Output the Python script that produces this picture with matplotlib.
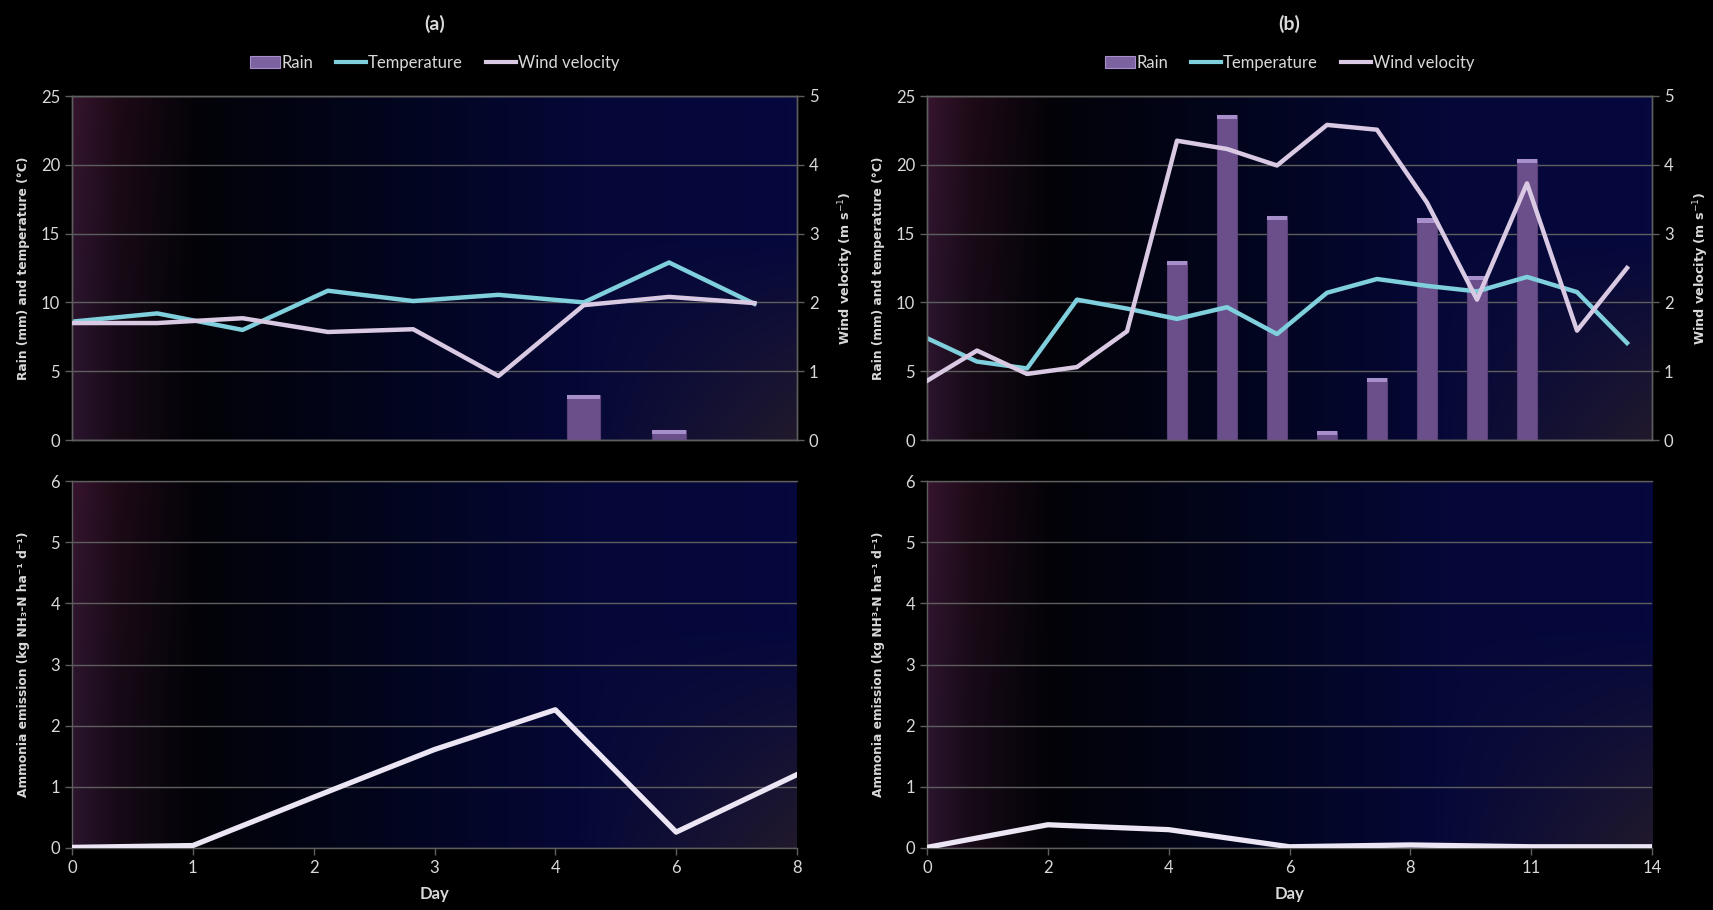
import numpy as np
import matplotlib
matplotlib.use('Agg')
import matplotlib.pyplot as plt
from matplotlib.patches import Patch
from matplotlib.lines import Line2D

# daily weather during the two campaigns
rain_a = [0, 0, 0, 0, 0, 0, 3.3, 0.7, 0]
temp_a = [8.6, 9.2, 8.0, 10.85, 10.1, 10.55, 10.0, 12.9, 9.9]
wind_a = [1.70, 1.70, 1.77, 1.57, 1.61, 0.93, 1.96, 2.08, 1.99]

rain_b = [0, 0, 0, 0, 0, 13.0, 23.6, 16.3, 0.65, 4.5, 16.1, 11.9, 20.4, 0, 0]
temp_b = [7.4, 5.7, 5.2, 10.2, 9.55, 8.8, 9.65, 7.7, 10.7, 11.7, 11.2, 10.8, 11.85, 10.75, 7.05]
wind_b = [0.86, 1.30, 0.96, 1.06, 1.58, 4.35, 4.23, 3.99, 4.58, 4.51, 3.45, 2.04, 3.73, 1.59, 2.50]

# ammonia emission per sampling day
days_a = ['0', '1', '2', '3', '4', '6', '8']
nh3_a = [0.01, 0.04, 0.83, 1.61, 2.26, 0.26, 1.20]
days_b = ['0', '2', '4', '6', '8', '11', '14']
nh3_b = [0.01, 0.38, 0.30, 0.02, 0.05, 0.02, 0.02]

NARROW = ['Lato', 'DejaVu Sans']
TXT = '#d9d9d9'
GRID = '#5e5e5e'
C_TEMP = '#7fcfdc'
C_WIND = '#d9c9e3'
C_RAIN = '#6a4f8a'
C_NH3 = '#ece6f4'


def backdrop(ax):
    # dark purple -> black -> navy wash, lighter haze in the lower right
    xs = np.linspace(0, 1, 400)[None, :]
    ys = np.linspace(0, 1, 200)[:, None]
    stops = [0, 0.06, 0.17, 0.45, 0.72, 1.0]
    r = np.interp(xs, stops, [0.17, 0.09, 0.01, 0.01, 0.02, 0.02])
    g = np.interp(xs, stops, [0.08, 0.04, 0.01, 0.02, 0.03, 0.03])
    b = np.interp(xs, stops, [0.18, 0.09, 0.03, 0.12, 0.22, 0.24])
    img = np.stack(np.broadcast_arrays(r, g, b), axis=-1).astype(float)
    img = img * np.ones((200, 400, 1))
    top = np.clip((0.6 - ys) / 0.6, 0, 1)
    img[..., 0] += 0.04 * top * np.clip((0.2 - xs) / 0.2, 0, 1)
    haze = np.clip((xs - 0.7) / 0.3, 0, 1) * np.clip((ys - 0.4) / 0.6, 0, 1)
    haze = haze[..., None] * np.ones((1, 1, 3))
    img = img * (1 - haze) + haze * np.array([0.13, 0.10, 0.17])
    ax.imshow(img, extent=(0, 1, 0, 1), transform=ax.transAxes, aspect='auto',
              zorder=0, interpolation='bicubic')


def style(ax, right=False):
    for side in ['left', 'bottom', 'top', 'right']:
        ax.spines[side].set_color(GRID)
        ax.spines[side].set_linewidth(1)
    ax.spines['right'].set_visible(right)
    ax.tick_params(colors=GRID, labelcolor=TXT, labelsize=12, length=5, width=1)
    for lab in ax.get_yticklabels() + ax.get_xticklabels():
        lab.set_family(NARROW)


def weather(ax, rain, temp, wind, tag):
    x = np.arange(len(temp))
    backdrop(ax)
    ax.set_facecolor('black')
    rain = np.array(rain, dtype=float)
    wet = rain > 0
    ax.bar(x[wet], rain[wet], width=0.39, color=C_RAIN, edgecolor='#5a4278',
           linewidth=0.8, zorder=3)
    cap = 0.3
    ax.bar(x[wet], cap, bottom=rain[wet] - cap, width=0.39, color='#a68fcb',
           linewidth=0, zorder=3)
    ax.plot(x, temp, color=C_TEMP, lw=3.2, zorder=4, solid_joinstyle='round')
    ax.set_xlim(0, len(temp) - 0.5)
    ax.set_ylim(0, 25)
    ax.set_yticks(range(0, 26, 5))
    ax.set_xticks([])
    ax.yaxis.grid(True, color=GRID, lw=1, zorder=1)
    ax.set_axisbelow(True)
    ax.set_ylabel('Rain (mm) and temperature (°C)', color=TXT, fontsize=8.8,
                  fontweight='bold')
    ax.yaxis.set_label_coords(-0.058, 0.5)

    ax2 = ax.twinx()
    ax2.plot(x, wind, color=C_WIND, lw=3.2, zorder=4, solid_joinstyle='round')
    ax2.set_ylim(0, 5)
    ax2.set_yticks(range(6))
    ax2.set_xlim(0, len(temp) - 0.5)
    style(ax, right=True)
    style(ax2, right=True)
    ax2.set_ylabel('Wind velocity (m s$^{-1}$)', color=TXT, fontsize=9.2,
                   fontweight='bold')
    ax2.yaxis.set_label_coords(1.054, 0.5)

    handles = [Patch(facecolor='#7d62a0', edgecolor='#a68fcb', lw=0.8),
               Line2D([], [], color=C_TEMP, lw=3),
               Line2D([], [], color=C_WIND, lw=3)]
    ax.legend(handles, ['Rain', 'Temperature', 'Wind velocity'], ncol=3,
              loc='center', bbox_to_anchor=(0.5, 1.096), frameon=False,
              handlelength=1.8, handletextpad=0.1, columnspacing=1.4,
              prop={'family': NARROW, 'size': 12}, labelcolor=TXT)
    ax.text(0.5, 1.21, tag, transform=ax.transAxes, ha='center', va='center',
            color=TXT, fontsize=14, fontweight='bold', family=NARROW)


def emission(ax, days, nh3, label):
    x = np.arange(len(days))
    backdrop(ax)
    ax.plot(x, nh3, color=C_NH3, lw=3.8, zorder=4, solid_joinstyle='round')
    ax.set_xlim(0, len(days) - 1)
    ax.set_ylim(0, 6)
    ax.set_yticks(range(7))
    ax.set_xticks(x)
    ax.set_xticklabels(days)
    ax.yaxis.grid(True, color=GRID, lw=1, zorder=1)
    ax.set_axisbelow(True)
    style(ax)
    ax.set_ylabel(label, color=TXT, fontsize=8.8, fontweight='bold')
    ax.yaxis.set_label_coords(-0.058, 0.5)
    ax.set_xlabel('Day', color=TXT, fontsize=12, fontweight='bold', family=NARROW,
                  labelpad=7)


fig = plt.figure(figsize=(17.13, 9.10), dpi=100, facecolor='black')
left_x, right_x = 72 / 1713, 927 / 1713
w = 725 / 1713
top_y, top_h = 1 - 440 / 910, 344 / 910
bot_y, bot_h = 1 - 848 / 910, 367 / 910

ax_a = fig.add_axes([left_x, top_y, w, top_h])
ax_b = fig.add_axes([right_x, top_y, w, top_h])
ax_c = fig.add_axes([left_x, bot_y, w, bot_h])
ax_d = fig.add_axes([right_x, bot_y, w, bot_h])

weather(ax_a, rain_a, temp_a, wind_a, '(a)')
weather(ax_b, rain_b, temp_b, wind_b, '(b)')
emission(ax_c, days_a, nh3_a, 'Ammonia emission (kg NH\u2083-N ha\u207b\u00b9 d\u207b\u00b9)')
emission(ax_d, days_b, nh3_b, 'Ammonia emission (kg NH\u00b3-N ha\u207b\u00b9 d\u207b\u00b9)')

fig.savefig('out.png', dpi=100, facecolor='black')
